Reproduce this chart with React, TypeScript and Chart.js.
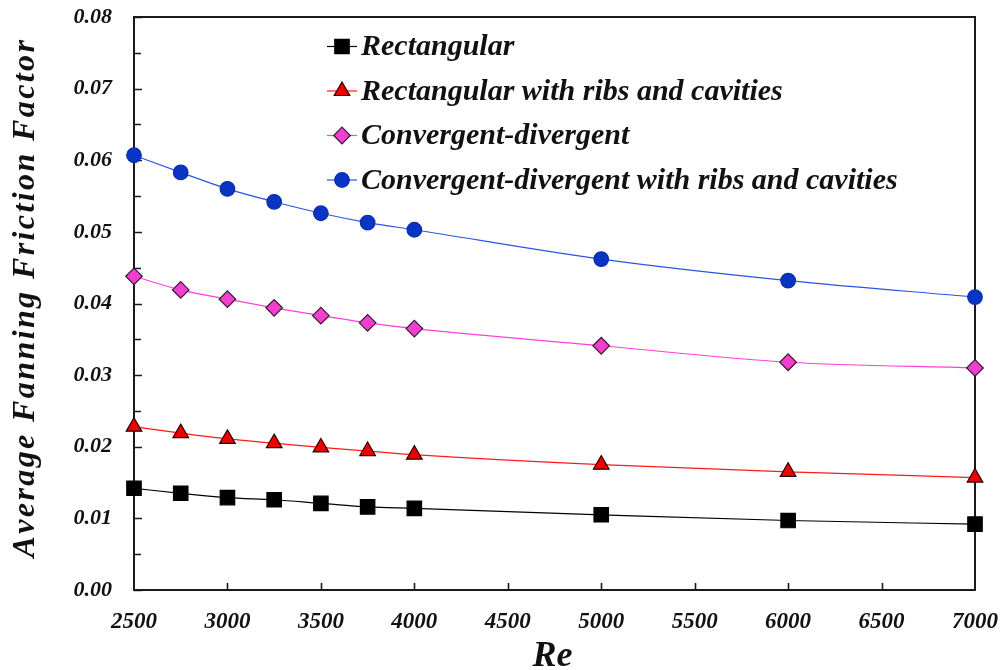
import React, { useEffect, useRef } from 'react';
import { Chart, registerables } from 'chart.js';

Chart.register(...registerables);

// Reynolds numbers on the horizontal axis
const reynolds = [2500, 2750, 3000, 3250, 3500, 3750, 4000, 5000, 6000, 7000];

// Average Fanning friction factor for each channel geometry
const rectangular = [0.0142, 0.0135, 0.0129, 0.0126, 0.0121, 0.0116, 0.0114, 0.0105, 0.0097, 0.0092];
const rectangularRibs = [0.0228, 0.0219, 0.0211, 0.0205, 0.0199, 0.0194, 0.0189, 0.0175, 0.0165, 0.0157];
const convergentDivergent = [0.0438, 0.0419, 0.0406, 0.0394, 0.0383, 0.0373, 0.0365, 0.0341, 0.0318, 0.031];
const convergentDivergentRibs = [0.0607, 0.0583, 0.056, 0.0542, 0.0526, 0.0513, 0.0503, 0.0462, 0.0432, 0.0409];

const seriesNames = [
  'Rectangular',
  'Rectangular with ribs and cavities',
  'Convergent-divergent',
  'Convergent-divergent with ribs and cavities',
];

// Axis range and tick spacing
const xMin = 2500;
const xMax = 7000;
const xStep = 500;
const yMin = 0;
const yMax = 0.08;
const yStep = 0.01;
const yMinorStep = 0.005;

const FONT = '"Liberation Serif", "Times New Roman", serif';
const AXIS_COLOR = '#1a1a1a';

type Style = { line: string; fill: string; border: string; shape: string; radius: number };
const styles: Style[] = [
  { line: '#000000', fill: '#000000', border: '#000000', shape: 'rect', radius: 10.2 },
  { line: '#ff1a1a', fill: '#ee0000', border: '#2a0000', shape: 'triangle', radius: 9 },
  { line: '#ff40d8', fill: '#f23fcf', border: '#3a1a33', shape: 'rectRot', radius: 8.3 },
  { line: '#2a55e0', fill: '#0a34c4', border: '#0a2ea8', shape: 'circle', radius: 7.3 },
];
const seriesValues = [rectangular, rectangularRibs, convergentDivergent, convergentDivergentRibs];

function drawMarker(ctx: CanvasRenderingContext2D, s: Style, x: number, y: number) {
  const r = s.radius;
  ctx.beginPath();
  if (s.shape === 'rect') {
    const h = r * Math.SQRT1_2;
    ctx.rect(x - h, y - h, 2 * h, 2 * h);
  } else if (s.shape === 'triangle') {
    for (let i = 0; i < 3; i++) {
      const a = (i * 2 * Math.PI) / 3;
      const px = x + Math.sin(a) * r;
      const py = y - Math.cos(a) * r;
      if (i === 0) ctx.moveTo(px, py);
      else ctx.lineTo(px, py);
    }
    ctx.closePath();
  } else if (s.shape === 'rectRot') {
    ctx.moveTo(x, y - r);
    ctx.lineTo(x + r, y);
    ctx.lineTo(x, y + r);
    ctx.lineTo(x - r, y);
    ctx.closePath();
  } else {
    ctx.arc(x, y, r, 0, Math.PI * 2);
  }
  ctx.fillStyle = s.fill;
  ctx.fill();
  ctx.lineWidth = 1.2;
  ctx.strokeStyle = s.border;
  ctx.stroke();
}

// Plot frame plus inward tick marks, drawn underneath the series
const framePlugin = {
  id: 'frame',
  beforeDatasetsDraw(chart: any) {
    const { ctx, chartArea: a, scales } = chart;
    const xs = scales.x;
    const ys = scales.y;
    ctx.save();
    ctx.strokeStyle = AXIS_COLOR;
    ctx.lineWidth = 2;
    ctx.strokeRect(a.left, a.top, a.right - a.left, a.bottom - a.top);
    ctx.lineWidth = 1.6;
    ctx.beginPath();
    for (let v = yMin; v <= yMax + 1e-9; v += yMinorStep) {
      const py = Math.round(ys.getPixelForValue(v)) + 0.5;
      const major = Math.abs(v / yStep - Math.round(v / yStep)) < 1e-6;
      ctx.moveTo(a.left, py);
      ctx.lineTo(a.left + (major ? 8 : 7), py);
    }
    for (let v = xMin + xStep; v < xMax; v += xStep) {
      const px = Math.round(xs.getPixelForValue(v)) + 0.5;
      ctx.moveTo(px, a.bottom);
      ctx.lineTo(px, a.bottom - 7);
    }
    ctx.stroke();
    ctx.restore();
  },
  afterDraw(chart: any) {
    const { ctx, chartArea: a } = chart;
    ctx.save();
    // legend inside the plot
    const lx = a.left + 208;
    const rows = [46.5, 91, 135.5, 180];
    ctx.font = `italic bold 30px ${FONT}`;
    ctx.textBaseline = 'middle';
    ctx.textAlign = 'left';
    seriesNames.forEach((name, i) => {
      const s = styles[i];
      const y = rows[i];
      ctx.strokeStyle = s.line;
      ctx.lineWidth = 1.2;
      ctx.beginPath();
      ctx.moveTo(lx - 15, y);
      ctx.lineTo(lx + 15, y);
      ctx.stroke();
      drawMarker(ctx, s, lx, y);
      ctx.fillStyle = '#111';
      ctx.fillText(name, lx + 19, y + 1);
    });

    // y-axis title, rotated and letter-spaced
    const title = 'Average Fanning Friction Factor';
    ctx.font = `italic bold 32px ${FONT}`;
    const natural = ctx.measureText(title).width;
    const target = 515;
    const spacing = (target - natural) / (title.length - 1);
    ctx.translate(34, 300);
    ctx.rotate(-Math.PI / 2);
    ctx.textBaseline = 'alphabetic';
    ctx.fillStyle = '#111';
    let cx = -target / 2;
    for (const ch of title) {
      ctx.fillText(ch, cx, 0);
      cx += ctx.measureText(ch).width + spacing;
    }
    ctx.setTransform(1, 0, 0, 1, 0, 0);

    // x-axis title
    ctx.font = `italic bold 36px ${FONT}`;
    ctx.textAlign = 'center';
    ctx.textBaseline = 'alphabetic';
    ctx.fillText('Re', (a.left + a.right) / 2 - 2, 666);
    ctx.restore();
  },
};

function noPadding(s: any) {
  s.paddingLeft = 0;
  s.paddingRight = 0;
  s.paddingTop = 0;
  s.paddingBottom = 0;
}

export default function App() {
  const canvasRef = useRef<HTMLCanvasElement | null>(null);

  useEffect(() => {
    document.body.style.margin = '0';
    const canvas = canvasRef.current;
    if (!canvas) return;
    const chart = new Chart(canvas, {
      type: 'line',
      data: {
        datasets: seriesValues.map((vals, i) => ({
          label: seriesNames[i],
          data: reynolds.map((x, j) => ({ x, y: vals[j] })),
          borderColor: styles[i].line,
          borderWidth: 1.2,
          backgroundColor: styles[i].fill,
          pointBackgroundColor: styles[i].fill,
          pointBorderColor: styles[i].border,
          pointBorderWidth: 1.2,
          pointStyle: styles[i].shape as any,
          pointRadius: styles[i].radius,
          cubicInterpolationMode: 'monotone' as const,
          fill: false,
          clip: false as any,
        })),
      },
      options: {
        animation: false,
        responsive: false,
        devicePixelRatio: 1,
        layout: { padding: { top: 17, right: 27, left: 0, bottom: 0 } },
        plugins: { legend: { display: false }, tooltip: { enabled: false } },
        scales: {
          x: {
            type: 'linear',
            min: xMin,
            max: xMax,
            grid: { display: false },
            border: { display: false },
            afterFit: (s: any) => {
              s.height = 80;
              noPadding(s);
            },
            ticks: {
              stepSize: xStep,
              padding: 10,
              color: '#111',
              font: { family: FONT, size: 23, weight: 'bold', style: 'italic' },
              maxRotation: 0,
              callback: (v: any) => String(v),
            },
          },
          y: {
            type: 'linear',
            min: yMin,
            max: yMax,
            grid: { display: false },
            border: { display: false },
            afterFit: (s: any) => {
              s.width = 134;
              noPadding(s);
            },
            ticks: {
              stepSize: yStep,
              padding: 14,
              color: '#111',
              font: { family: FONT, size: 22, weight: 'bold', style: 'italic' },
              callback: (v: any) => Number(v).toFixed(2),
            },
          },
        },
      },
      plugins: [framePlugin],
    });
    return () => chart.destroy();
  }, []);

  return (
    <div style={{ width: 1002, height: 670 }}>
      <canvas ref={canvasRef} width={1002} height={670} />
    </div>
  );
}
